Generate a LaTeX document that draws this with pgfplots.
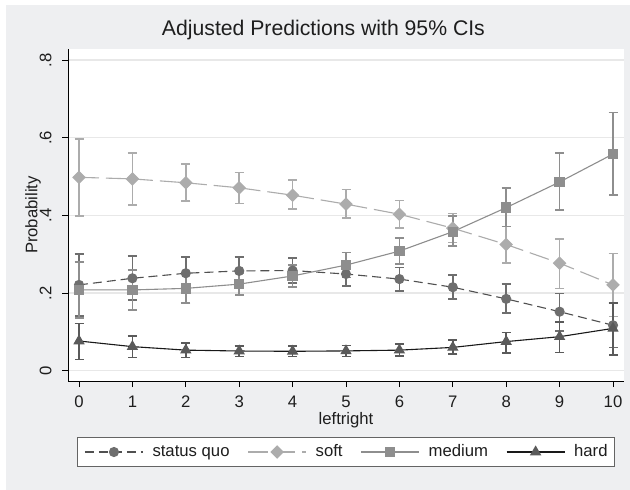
\documentclass[border=0pt]{standalone}
\usepackage{pgfplots}
\pgfplotsset{compat=1.18}
\usepackage{pgfplotstable}
\usepackage{fontspec}
\setmainfont{Liberation Sans}

\definecolor{bgc}{RGB}{238,239,241}
\definecolor{gridc}{RGB}{232,232,232}
\definecolor{sqc}{RGB}{110,110,110}
\definecolor{sqline}{RGB}{80,80,80}
\definecolor{softc}{RGB}{172,172,172}
\definecolor{medc}{RGB}{142,142,142}
\definecolor{hardc}{RGB}{90,90,90}
\definecolor{hardline}{RGB}{25,25,25}
\definecolor{legframe}{RGB}{100,100,100}
\definecolor{txt}{RGB}{30,30,30}

\pgfplotstableread{
x y lo hi
0 0.221 0.141 0.300
1 0.238 0.182 0.295
2 0.251 0.210 0.293
3 0.257 0.222 0.293
4 0.258 0.226 0.290
5 0.249 0.218 0.280
6 0.236 0.205 0.266
7 0.215 0.184 0.246
8 0.185 0.149 0.223
9 0.152 0.103 0.199
10 0.117 0.060 0.173
}\sq

\pgfplotstableread{
x y lo hi
0 0.498 0.398 0.597
1 0.494 0.426 0.561
2 0.484 0.437 0.532
3 0.471 0.431 0.510
4 0.452 0.416 0.491
5 0.429 0.394 0.467
6 0.403 0.368 0.438
7 0.367 0.330 0.405
8 0.325 0.278 0.371
9 0.277 0.212 0.339
10 0.221 0.140 0.302
}\soft

\pgfplotstableread{
x y lo hi
0 0.208 0.136 0.280
1 0.208 0.156 0.259
2 0.212 0.175 0.250
3 0.223 0.195 0.252
4 0.244 0.216 0.272
5 0.272 0.240 0.304
6 0.308 0.275 0.342
7 0.358 0.321 0.398
8 0.420 0.371 0.470
9 0.486 0.414 0.561
10 0.558 0.452 0.665
}\medium

\pgfplotstableread{
x y lo hi
0 0.0765 0.029 0.122
1 0.062 0.034 0.089
2 0.053 0.034 0.072
3 0.0507 0.037 0.064
4 0.050 0.037 0.063
5 0.051 0.037 0.065
6 0.053 0.038 0.069
7 0.060 0.043 0.079
8 0.075 0.046 0.098
9 0.0876 0.047 0.126
10 0.109 0.040 0.175
}\hard

\newcommand{\lbl}{\fontsize{16.7bp}{20bp}\selectfont}

\begin{document}
\begin{tikzpicture}
\useasboundingbox (0,0) rectangle (630bp,490bp);
\fill[white] (0,0) rectangle (630bp,490bp);
\fill[bgc] (6bp,0) rectangle (630bp,485bp);
\begin{axis}[
  at={(68bp,109bp)}, anchor=south west,
  width=556bp, height=332bp, scale only axis,
  xmin=-0.206, xmax=10.206,
  ymin=-0.0265, ymax=0.8285,
  enlargelimits=false,
  axis background/.style={fill=white},
  axis x line*=bottom, axis y line*=left,
  axis line style={black, line width=1bp},
  tick align=outside, major tick length=6bp,
  major tick style={black, line width=1bp},
  xtick={0,1,2,3,4,5,6,7,8,9,10},
  xticklabels={0,1,2,3,4,5,6,7,8,9,10},
  ytick={0,0.2,0.4,0.6,0.8},
  yticklabels={0,.2,.4,.6,.8},
  /pgf/number format/assume math mode=true,
  ticklabel style={font=\lbl, text=txt},
  xticklabel style={yshift=-5bp},
  yticklabel style={xshift=-7bp, rotate=90, anchor=south},
  ymajorgrids, major grid style={gridc, line width=1.5bp},
  xlabel={leftright}, ylabel={Probability},
  every axis x label/.style={at={(axis description cs:0.5,-0.132)}, anchor=base, font=\lbl, text=txt},
  every axis y label/.style={at={(axis description cs:-0.0549,0.5)}, rotate=90, anchor=base, font=\lbl, text=txt},
  title={Adjusted Predictions with 95\% CIs},
  title style={at={(axis description cs:0.4594,1.022)}, anchor=base, font=\fontsize{21.2bp}{26bp}\selectfont, text=txt},
  legend columns=4,
  legend cell align=left,
  legend image code/.code={
    \draw[mark repeat=2, mark phase=2, #1] plot coordinates {(0bp,0bp) (29bp,0bp) (58bp,0bp)};
  },
  legend style={at={(axis description cs:0.5,-0.2139)}, anchor=center,
    draw=legframe, line width=1bp, fill=white,
    inner xsep=6.5bp, inner ysep=6.5bp,
    font=\lbl, text=txt,
    nodes={inner sep=0pt, text height=12.5bp, text depth=3.5bp},
    /tikz/every odd column/.append style={column sep=9bp},
    /tikz/every even column/.append style={column sep=18bp}},
  error bars/y dir=both, error bars/y explicit,
]
% confidence intervals
\addplot[draw=none, mark=none, forget plot,
  error bars/error bar style={sqc, line width=1.6bp, solid},
  error bars/error mark options={rotate=90, sqc, mark size=4.5bp, line width=1.6bp}]
  table[x=x, y=y, y error plus expr=\thisrow{hi}-\thisrow{y}, y error minus expr=\thisrow{y}-\thisrow{lo}] {\sq};
\addplot[draw=none, mark=none, forget plot,
  error bars/error bar style={softc, line width=1.6bp, solid},
  error bars/error mark options={rotate=90, softc, mark size=4.5bp, line width=1.6bp}]
  table[x=x, y=y, y error plus expr=\thisrow{hi}-\thisrow{y}, y error minus expr=\thisrow{y}-\thisrow{lo}] {\soft};
\addplot[draw=none, mark=none, forget plot,
  error bars/error bar style={medc, line width=1.6bp, solid},
  error bars/error mark options={rotate=90, medc, mark size=4.5bp, line width=1.6bp}]
  table[x=x, y=y, y error plus expr=\thisrow{hi}-\thisrow{y}, y error minus expr=\thisrow{y}-\thisrow{lo}] {\medium};
\addplot[draw=none, mark=none, forget plot,
  error bars/error bar style={hardc, line width=1.6bp, solid},
  error bars/error mark options={rotate=90, hardc, mark size=4.5bp, line width=1.6bp}]
  table[x=x, y=y, y error plus expr=\thisrow{hi}-\thisrow{y}, y error minus expr=\thisrow{y}-\thisrow{lo}] {\hard};
% lines
\addplot[sqline, line width=1.1bp, dash pattern=on 9bp off 5bp,
  mark=*, mark size=4.5bp, mark options={solid, fill=sqc, draw=sqc}, error bars/y dir=none]
  table[x=x, y=y] {\sq};
\addlegendentry{status quo}
\addplot[softc, line width=1.1bp, dash pattern=on 20bp off 7bp,
  mark=diamond*, mark size=6bp, mark options={solid, fill=softc, draw=softc, xscale=1.333}, error bars/y dir=none]
  table[x=x, y=y] {\soft};
\addlegendentry{soft}
\addplot[medc, line width=1.1bp,
  mark=square*, mark size=4.6bp, mark options={solid, fill=medc, draw=medc}, error bars/y dir=none]
  table[x=x, y=y] {\medium};
\addlegendentry{medium}
\addplot[hardline, line width=1.1bp,
  mark=triangle*, mark size=5.5bp, mark options={solid, fill=hardc, draw=hardc}, error bars/y dir=none]
  table[x=x, y=y] {\hard};
\addlegendentry{hard}
\end{axis}
\end{tikzpicture}
\end{document}
